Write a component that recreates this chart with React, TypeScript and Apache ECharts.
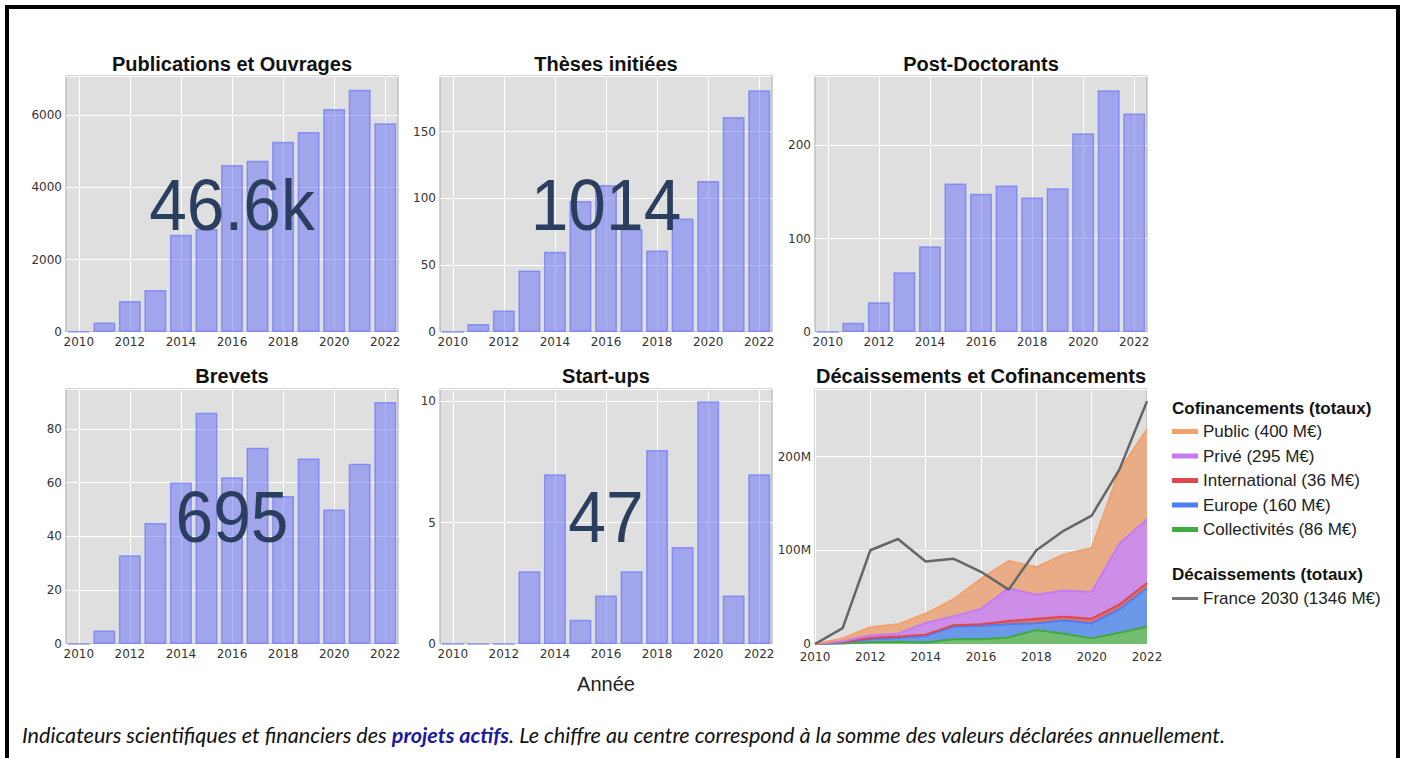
import React, { useEffect, useRef } from 'react';
import * as echarts from 'echarts';

// ---------- data ----------
const years = [2010, 2011, 2012, 2013, 2014, 2015, 2016, 2017, 2018, 2019, 2020, 2021, 2022];
const tickYears = [2010, 2012, 2014, 2016, 2018, 2020, 2022];

const publications = [20, 260, 857, 1162, 2692, 2849, 4620, 4739, 5265, 5533, 6169, 6703, 5773];
const theses = [0, 6, 16, 46, 60, 98, 110, 77, 61, 85, 113, 161, 181];
const postdocs = [0, 10, 32, 64, 92, 159, 148, 157, 144, 154, 213, 259, 234];
const brevets = [0, 5, 33, 45, 60, 86, 62, 73, 55, 69, 50, 67, 90];
const startups = [0, 0, 0, 3, 7, 1, 2, 3, 8, 4, 10, 2, 7];

// Cofinancements (M€), stacked
const publicCof = [0, 3, 9, 10, 10, 18, 32, 29, 29.5, 38.5, 47, 78, 96];
const priveCof = [0, 1, 2.5, 3, 12.5, 9.5, 16.5, 35, 25.5, 28, 28.5, 65, 68];
const internationalCof = [0, 0.5, 1.5, 1.5, 1.5, 1.5, 1.5, 3.5, 5, 4, 5, 5, 5.5];
const europeCof = [0, 1, 3, 4, 7, 13.5, 14.5, 14, 7, 14, 16, 25, 41];
const collectivitesCof = [0, 0.5, 2, 2.5, 1.5, 5, 5, 7, 15, 11, 6, 12, 18.5];
// Décaissements (M€)
const france2030 = [0, 17, 100, 112, 88, 91, 77, 58, 100, 121, 137, 186, 259];

const barTitles = ['Publications et Ouvrages', 'Thèses initiées', 'Post-Doctorants', 'Brevets', 'Start-ups'];
const barData = [publications, theses, postdocs, brevets, startups];
const showCenter = [true, true, false, true, true];
const yMax = [7082, 191.6, 274.3, 94.8, 10.51];
const yInterval = [2000, 50, 100, 20, 5];
const finTitle = 'Décaissements et Cofinancements';
const finMax = 272;

// ---------- layout ----------
const GRIDS = [
  { left: 66, top: 76, width: 332, height: 256 },
  { left: 440, top: 76, width: 332, height: 256 },
  { left: 815, top: 76, width: 332, height: 256 },
  { left: 66, top: 389, width: 332, height: 255 },
  { left: 440, top: 389, width: 332, height: 255 },
  { left: 815, top: 389, width: 332, height: 255 },
];

const sum = (a: number[]) => a.reduce((s, v) => s + v, 0);
const fmtTotal = (v: number) => (v >= 10000 ? (v / 1000).toFixed(1) + 'k' : String(Math.round(v)));

const AXIS_FONT = { fontFamily: 'DejaVu Sans', fontSize: 12, color: '#333' };
const TITLE_FONT = 'Liberation Sans, Arial, sans-serif';

export default function App() {
  const ref = useRef<HTMLDivElement>(null);

  useEffect(() => {
    if (!ref.current) return;
    const chart = echarts.init(ref.current, undefined, { renderer: 'svg' });

    const xAxes: any[] = [];
    const yAxes: any[] = [];
    const series: any[] = [];

    GRIDS.forEach((g, i) => {
      if (i < 5) {
        xAxes.push({
          type: 'value', gridIndex: i, min: 2009.5, max: 2022.5,
          axisLine: { show: false }, axisTick: { show: false, customValues: tickYears },
          axisLabel: { ...AXIS_FONT, margin: 4, customValues: tickYears, formatter: (v: number) => String(v) },
          splitLine: { show: true, lineStyle: { color: '#ffffff', width: 1 } },
        });
        yAxes.push({
          type: 'value', gridIndex: i, min: 0, max: yMax[i], interval: yInterval[i],
          axisLine: { show: false }, axisTick: { show: false },
          axisLabel: { ...AXIS_FONT, margin: 4, showMaxLabel: false, formatter: (v: number) => String(v) },
          splitLine: { show: true, lineStyle: { color: '#ffffff', width: 1 } },
        });
        series.push({
          type: 'bar', xAxisIndex: i, yAxisIndex: i, name: barTitles[i],
          data: years.map((y, k) => [y, barData[i][k]]),
          barWidth: '86%',
          itemStyle: { color: 'rgba(99,110,250,0.5)', borderColor: 'rgba(110,120,250,0.7)', borderWidth: 1.5 },
        });
      } else {
        xAxes.push({
          type: 'category', gridIndex: i, data: years.map(String), boundaryGap: false,
          axisLine: { show: false }, axisTick: { show: false },
          axisLabel: { ...AXIS_FONT, margin: 7, interval: 1 },
          splitLine: { show: true, interval: 1, lineStyle: { color: '#ffffff', width: 1 } },
        });
        yAxes.push({
          type: 'value', gridIndex: i, min: 0, max: finMax, interval: 100,
          axisLine: { show: false }, axisTick: { show: false },
          axisLabel: { ...AXIS_FONT, margin: 4, showMaxLabel: false, formatter: (v: number) => (v === 0 ? '0' : v + 'M') },
          splitLine: { show: true, lineStyle: { color: '#ffffff', width: 1 } },
        });
      }
    });

    const cof = [
      { key: 'Collectivités', data: collectivitesCof, line: '#3dab3d', area: '#74bd70' },
      { key: 'Europe', data: europeCof, line: '#4c7df2', area: '#6c98ea' },
      { key: 'International', data: internationalCof, line: '#e0474a', area: '#d9716e' },
      { key: 'Privé', data: priveCof, line: '#c57af5', area: '#cc8ee6' },
      { key: 'Public', data: publicCof, line: '#f4a06c', area: '#e8ad87' },
    ];
    const cofNames: Record<string, string> = {};
    cof.forEach((c) => {
      const name = `${c.key} (${Math.round(sum(c.data))} M€)`;
      cofNames[c.key] = name;
      series.push({
        type: 'line', name, xAxisIndex: 5, yAxisIndex: 5, stack: 'cof',
        data: c.data,
        symbol: 'none', color: c.line,
        lineStyle: { color: c.line, width: 2 },
        areaStyle: { color: c.area, opacity: 1 },
      });
    });
    const franceName = `France 2030 (${Math.round(sum(france2030))} M€)`;
    series.push({
      type: 'line', name: franceName, xAxisIndex: 5, yAxisIndex: 5,
      data: france2030,
      symbol: 'none', color: '#666', z: 5,
      lineStyle: { color: '#666', width: 2.5 },
    });

    const legendOrder = ['Public', 'Privé', 'International', 'Europe', 'Collectivités'];
    const legendText = { fontSize: 17, fontFamily: TITLE_FONT, color: '#222' };

    const graphics: any[] = [
      { type: 'rect', silent: true, shape: { x: 7, y: 7, width: 1391, height: 780 }, style: { fill: 'none', stroke: '#000', lineWidth: 4 } },
    ];
    const allTitles = [...barTitles, finTitle];
    GRIDS.forEach((g, i) => {
      graphics.push({
        type: 'text', x: g.left + g.width / 2, y: i < 3 ? 64 : 376,
        style: { text: allTitles[i], font: `bold 20px ${TITLE_FONT}`, fill: '#111', textAlign: 'center', textVerticalAlign: 'middle' },
      });
      if (i < 5 && showCenter[i]) {
        graphics.push({
          type: 'text', x: g.left + g.width / 2, y: g.top + g.height / 2 + 1, scaleX: 0.94, z: 100,
          style: { text: fmtTotal(sum(barData[i])), font: `72px ${TITLE_FONT}`, fill: '#2a3f5f', textAlign: 'center', textVerticalAlign: 'middle' },
        });
      }
    });
    graphics.push({
      type: 'text', x: 606, y: 684,
      style: { text: 'Année', font: `20px ${TITLE_FONT}`, fill: '#222', textAlign: 'center', textVerticalAlign: 'middle' },
    });
    graphics.push({
      type: 'text', x: 1172, y: 408,
      style: { text: 'Cofinancements (totaux)', font: `bold 17px ${TITLE_FONT}`, fill: '#111', textAlign: 'left', textVerticalAlign: 'middle' },
    });
    graphics.push({
      type: 'text', x: 1172, y: 574,
      style: { text: 'Décaissements (totaux)', font: `bold 17px ${TITLE_FONT}`, fill: '#111', textAlign: 'left', textVerticalAlign: 'middle' },
    });
    graphics.push({
      type: 'text', x: 22, y: 735,
      style: {
        text: '{a|Indicateurs scientifiques et financiers des }{b|projets actifs}{a|. Le chiffre au centre correspond à la somme des valeurs déclarées annuellement.}',
        textAlign: 'left', textVerticalAlign: 'middle',
        rich: {
          a: { fontFamily: 'Lato', fontStyle: 'italic', fontSize: 21.6, fill: '#111' },
          b: { fontFamily: 'Lato', fontStyle: 'italic', fontWeight: 'bold', fontSize: 21.6, fill: '#1a1aa0' },
        },
      },
    });

    chart.setOption({
      animation: false,
      backgroundColor: '#ffffff',
      grid: GRIDS.map((g) => ({ ...g, show: true, backgroundColor: '#dfdfdf', borderColor: '#a8a8a8', borderWidth: 1, containLabel: false })),
      xAxis: xAxes,
      yAxis: yAxes,
      legend: [
        {
          orient: 'vertical', left: 1172, top: 423, padding: 0, itemGap: 7.5, icon: 'rect', itemWidth: 26, itemHeight: 5,
          selectedMode: false, textStyle: legendText,
          data: legendOrder.map((k) => ({ name: cofNames[k], itemStyle: { color: cof.find((c) => c.key === k)!.line } })),
        },
        {
          orient: 'vertical', left: 1172, top: 590, padding: 0, itemGap: 7.5, icon: 'rect', itemWidth: 26, itemHeight: 3,
          selectedMode: false, textStyle: legendText,
          data: [{ name: franceName, itemStyle: { color: '#777' } }],
        },
      ],
      series,
      graphic: graphics,
    });

    return () => chart.dispose();
  }, []);

  return <div ref={ref} style={{ position: 'fixed', left: 0, top: 0, width: 1402, height: 758, background: '#fff' }} />;
}
